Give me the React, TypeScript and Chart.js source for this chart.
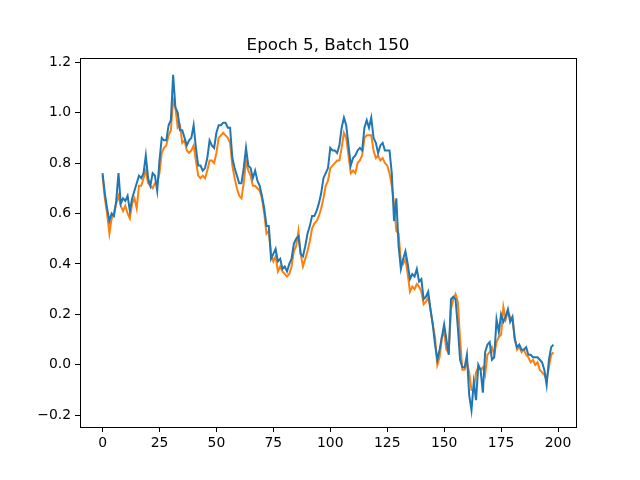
import { useEffect, useRef } from "react";
import { Chart, registerables } from "chart.js";

Chart.register(...registerables);

const TITLE = "Epoch 5, Batch 150";

// values, one per step 0..198
const blueValues = [
  0.76, 0.68, 0.62, 0.57, 0.6, 0.59, 0.65, 0.76, 0.64, 0.66,
  0.65, 0.67, 0.61, 0.66, 0.69, 0.72, 0.75, 0.74, 0.76, 0.83,
  0.74, 0.71, 0.76, 0.75, 0.69, 0.81, 0.9, 0.89, 0.89, 0.95,
  0.97, 1.15, 1.02, 1.0, 0.93, 0.93, 0.9, 0.87, 0.89, 0.9,
  0.95, 0.86, 0.79, 0.79, 0.77, 0.78, 0.82, 0.89, 0.87, 0.86,
  0.92, 0.95, 0.95, 0.96, 0.96, 0.94, 0.94, 0.82, 0.78, 0.75,
  0.72, 0.72, 0.78, 0.86, 0.79, 0.78, 0.74, 0.77, 0.73, 0.71,
  0.67, 0.62, 0.55, 0.55, 0.42, 0.44, 0.46, 0.41, 0.42, 0.38,
  0.39, 0.37, 0.4, 0.42, 0.48, 0.5, 0.51, 0.44, 0.43, 0.47,
  0.52, 0.55, 0.59, 0.59, 0.61, 0.64, 0.68, 0.74, 0.76, 0.78,
  0.86, 0.85, 0.85, 0.84, 0.87, 0.94, 0.98, 0.95, 0.87, 0.79,
  0.82, 0.83, 0.85, 0.86, 0.85, 0.94, 0.97, 0.94, 0.98, 0.9,
  0.88, 0.84, 0.87, 0.88, 0.85, 0.85, 0.85, 0.76, 0.57, 0.66,
  0.47, 0.38, 0.42, 0.45, 0.4, 0.34, 0.36, 0.35, 0.38, 0.33,
  0.34, 0.26, 0.27, 0.29, 0.22, 0.16, 0.08, 0.02, 0.06, 0.11,
  0.16, 0.1, 0.04, 0.26, 0.27, 0.26, 0.15, 0.02, -0.01, -0.01,
  0.04, -0.12, -0.18, -0.07, -0.14, 0.0, -0.02, -0.11, 0.05, 0.08,
  0.09, 0.02, 0.03, 0.18, 0.13, 0.2, 0.17, 0.19, 0.22, 0.17,
  0.19, 0.1, 0.07, 0.08, 0.06, 0.06, 0.07, 0.04, 0.04, 0.03,
  0.03, 0.03, 0.02, 0.01, -0.02, -0.08, 0.02, 0.07, 0.08,
];

const orangeValues = [
  0.75, 0.66, 0.6, 0.52, 0.58, 0.6, 0.64, 0.67, 0.63, 0.61,
  0.63, 0.6, 0.58, 0.64, 0.66, 0.62, 0.71, 0.71, 0.74, 0.77,
  0.72, 0.71, 0.7, 0.72, 0.72, 0.76, 0.84, 0.86, 0.87, 0.91,
  0.93, 1.05, 1.02, 0.94, 0.95, 0.88, 0.89, 0.85, 0.84, 0.85,
  0.87, 0.81, 0.75, 0.74, 0.75, 0.74, 0.77, 0.81, 0.81, 0.8,
  0.84, 0.9, 0.91, 0.92, 0.91, 0.9, 0.88, 0.79, 0.74, 0.7,
  0.67, 0.66, 0.72, 0.81, 0.77, 0.75, 0.71, 0.71, 0.7, 0.69,
  0.66, 0.6, 0.52, 0.53, 0.44, 0.41, 0.43, 0.37, 0.39, 0.37,
  0.36, 0.35, 0.36, 0.39, 0.45, 0.47, 0.53, 0.44, 0.39, 0.42,
  0.45, 0.49, 0.54, 0.56, 0.57, 0.59, 0.62, 0.66, 0.71, 0.73,
  0.78, 0.79, 0.8, 0.81, 0.81, 0.86, 0.92, 0.9, 0.83, 0.76,
  0.77, 0.76, 0.8, 0.81, 0.83, 0.9, 0.91, 0.91, 0.91, 0.85,
  0.82, 0.83, 0.81, 0.82, 0.8, 0.79, 0.76, 0.71, 0.64, 0.53,
  0.52, 0.41, 0.4, 0.42, 0.36, 0.29, 0.31, 0.3, 0.32, 0.31,
  0.29, 0.24, 0.25, 0.27, 0.22, 0.16, 0.11, 0.0, 0.03, 0.11,
  0.13, 0.06, 0.05, 0.22, 0.26, 0.28, 0.25, 0.1, -0.02, -0.02,
  0.01, -0.03, -0.1, -0.1, -0.03, -0.01, -0.02, -0.01, -0.04, 0.04,
  0.05, 0.07, 0.04, 0.09, 0.11, 0.12, 0.23, 0.18, 0.21, 0.19,
  0.18, 0.11, 0.06, 0.07, 0.05, 0.06, 0.04, 0.03, 0.01, 0.02,
  0.0, 0.01, -0.02, -0.03, -0.04, -0.06, -0.01, 0.04, 0.05,
];

const xTicks = [0, 25, 50, 75, 100, 125, 150, 175, 200];
const yTicks = [-0.2, 0.0, 0.2, 0.4, 0.6, 0.8, 1.0, 1.2];

const FONT = "'DejaVu Sans', sans-serif";

// matplotlib-like frame on all four sides plus the title
const framePlugin = {
  id: "frame",
  afterDraw(chart: Chart) {
    const { ctx, chartArea } = chart;
    ctx.save();
    ctx.strokeStyle = "#000";
    ctx.lineWidth = 1;
    ctx.strokeRect(
      Math.round(chartArea.left) + 0.5,
      Math.round(chartArea.top) + 0.5,
      Math.round(chartArea.right - chartArea.left),
      Math.round(chartArea.bottom - chartArea.top)
    );
    ctx.fillStyle = "#000";
    ctx.font = `16.7px ${FONT}`;
    ctx.textAlign = "center";
    ctx.textBaseline = "alphabetic";
    ctx.fillText(TITLE, (chartArea.left + chartArea.right) / 2, chartArea.top - 8);
    ctx.restore();
  },
};

export default function App() {
  const canvasRef = useRef<HTMLCanvasElement>(null);
  const chartRef = useRef<Chart | null>(null);

  useEffect(() => {
    document.body.style.margin = "0";
    const canvas = canvasRef.current;
    if (!canvas) return;

    const toPoints = (vals: number[]) => vals.map((y, x) => ({ x, y }));

    chartRef.current = new Chart(canvas, {
      type: "line",
      data: {
        datasets: [
          {
            data: toPoints(blueValues),
            borderColor: "#1f77b4",
            borderWidth: 2,
            pointRadius: 0,
            tension: 0,
          },
          {
            data: toPoints(orangeValues),
            borderColor: "#ff7f0e",
            borderWidth: 2,
            pointRadius: 0,
            tension: 0,
          },
        ],
      },
      options: {
        responsive: false,
        animation: false,
        devicePixelRatio: 1,
        layout: { padding: { top: 58, right: 64, left: 0, bottom: 0 } },
        plugins: {
          legend: { display: false },
          tooltip: { enabled: false },
        },
        scales: {
          x: {
            type: "linear",
            min: -9.9,
            max: 207.9,
            afterBuildTicks: (scale) => {
              scale.ticks = xTicks.map((value) => ({ value }));
            },
            afterFit: (scale) => {
              scale.height = 53;
            },
            grid: {
              display: true,
              drawOnChartArea: false,
              drawTicks: true,
              tickLength: 5,
              color: "#000",
            },
            border: { display: false },
            ticks: {
              color: "#000",
              padding: 3,
              maxRotation: 0,
              font: { family: FONT, size: 13.9 },
              callback: (v) => String(v),
            },
          },
          y: {
            type: "linear",
            min: -0.2465,
            max: 1.2165,
            afterBuildTicks: (scale) => {
              scale.ticks = yTicks.map((value) => ({ value }));
            },
            afterFit: (scale) => {
              scale.width = 80;
            },
            grid: {
              display: true,
              drawOnChartArea: false,
              drawTicks: true,
              tickLength: 5,
              color: "#000",
            },
            border: { display: false },
            ticks: {
              color: "#000",
              padding: 4,
              font: { family: FONT, size: 13.9 },
              callback: (v) => Number(v).toFixed(1).replace("-", "\u2212"),
            },
          },
        },
      },
      plugins: [framePlugin],
    });

    return () => {
      chartRef.current?.destroy();
      chartRef.current = null;
    };
  }, []);

  return (
    <div style={{ width: 640, height: 480, background: "#fff" }}>
      <canvas ref={canvasRef} width={640} height={480} />
    </div>
  );
}
